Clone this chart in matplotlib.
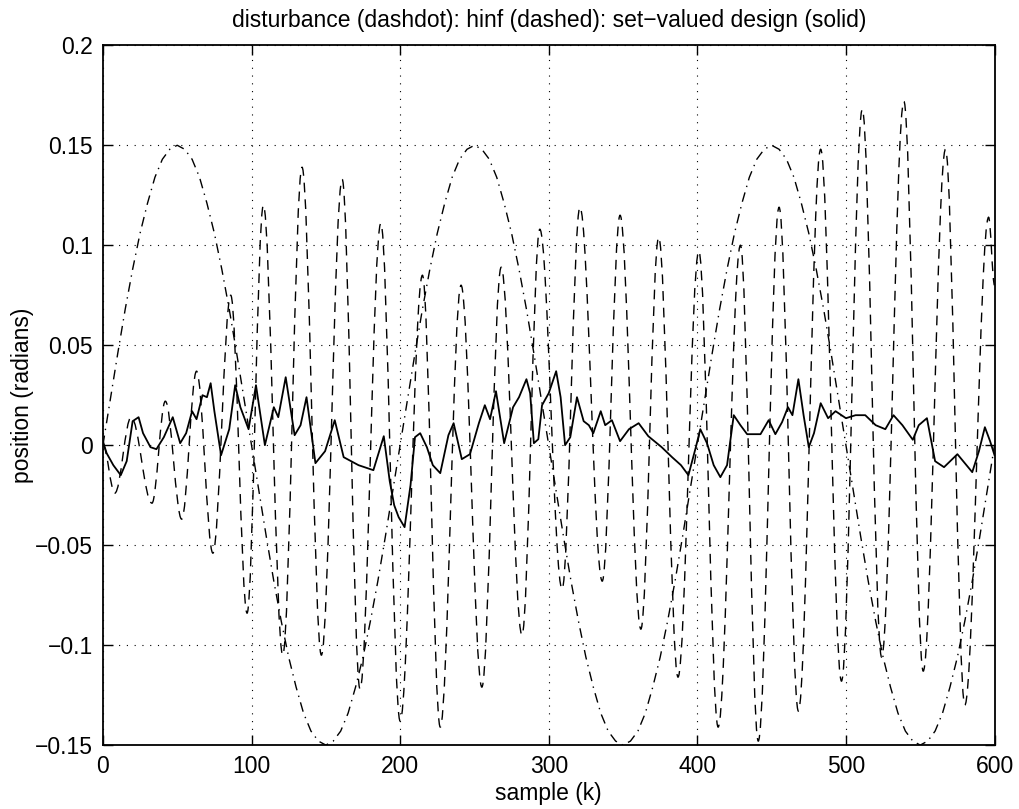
import matplotlib
matplotlib.use('Agg')
import matplotlib.pyplot as plt
from matplotlib.path import Path
from matplotlib.patches import PathPatch
import numpy as np

plt.rcParams['font.family'] = ['Liberation Sans', 'DejaVu Sans']

# disturbance (dashdot), read every 5 samples
dist_k = np.arange(0, 601, 5)
dist_y = [0, .023, .046, .068, .088, .106, .121, .134, .143, .148, .150, .148, .143, .134, .121, .106, .088, .068, .046, .023,
          0, -.023, -.046, -.068, -.088, -.106, -.121, -.134, -.143, -.148, -.150, -.148, -.143, -.134, -.121, -.106, -.088, -.068, -.046, -.023,
          0, .023, .046, .068, .088, .106, .121, .134, .143, .148, .150, .148, .143, .134, .121, .106, .088, .068, .046, .023,
          0, -.023, -.046, -.068, -.088, -.106, -.121, -.134, -.143, -.148, -.150, -.148, -.143, -.134, -.121, -.106, -.088, -.068, -.046, -.023,
          0, .023, .046, .068, .088, .106, .121, .134, .143, .148, .150, .148, .143, .134, .121, .106, .088, .068, .046, .023,
          0, -.023, -.046, -.068, -.088, -.106, -.121, -.134, -.143, -.148, -.150, -.148, -.143, -.134, -.121, -.106, -.088, -.068, -.046, -.023,
          0]

# hinf response (dashed): turning points
hinf_k = [0, 8, 19, 33, 42, 53, 63, 74, 86, 97, 108, 121, 134, 147, 161, 173, 187, 200, 215, 227,
          241, 255, 268, 282, 294, 309, 321, 336, 348, 362, 374, 387, 401, 414, 429, 441, 455, 468,
          483, 497, 511, 524, 539, 552, 567, 580, 596, 600]
hinf_y = [0.0, -0.024, 0.014, -0.029, 0.022, -0.037, 0.037, -0.054, 0.075, -0.084, 0.120, -0.105, 0.139,
          -0.105, 0.133, -0.122, 0.111, -0.138, 0.085, -0.141, 0.080, -0.121, 0.089, -0.095, 0.108,
          -0.072, 0.119, -0.068, 0.115, -0.092, 0.104, -0.116, 0.097, -0.141, 0.100, -0.148, 0.119,
          -0.133, 0.148, -0.118, 0.168, -0.106, 0.172, -0.113, 0.148, -0.130, 0.114, 0.080]

# set-valued design (solid)
sv_k = [0, 2.5, 7, 12, 16, 20, 24, 27, 32, 36, 41, 44, 47, 52, 56, 60, 63, 67, 70, 72.5, 75, 79.5, 85, 89,
        92.5, 96, 98, 103, 109, 115, 118, 123, 129, 133, 137, 143, 149.5, 156, 162, 172, 182, 189, 193,
        196, 199, 203, 207, 210, 213.5, 218, 222, 227, 232.5, 236, 241.5, 247, 253, 257, 260.5, 264.5,
        270, 276, 280, 285, 287.5, 290, 293, 295.5, 300, 305, 308, 311, 314.5, 319, 323.5, 327, 330,
        335, 338, 342.5, 348, 354, 360.5, 367, 376, 383, 389, 394, 399, 402, 406.5, 411, 415.5, 420,
        424.5, 429, 433.5, 442.5, 448, 452.5, 457, 461, 464, 468, 471.5, 475, 478.5, 483, 488, 493,
        500, 506.5, 513, 520, 526.5, 532, 538, 545, 549, 554.5, 560, 566, 575, 585, 589.5, 593.5, 597, 600]
sv_y = [0.002, -0.004, -0.010, -0.015, -0.008, 0.012, 0.014, 0.006, -0.001, -0.002, 0.004, 0.009, 0.014,
        0.001, 0.006, 0.017, 0.013, 0.025, 0.024, 0.031, 0.017, -0.005, 0.008, 0.030, 0.019, 0.012, 0.008,
        0.030, 0.000, 0.019, 0.014, 0.034, 0.005, 0.010, 0.024, -0.009, -0.003, 0.0125, -0.006, -0.010,
        -0.0125, 0.0045, -0.018, -0.030, -0.036, -0.041, -0.020, 0.004, 0.006, -0.001, -0.010, -0.014,
        0.005, 0.011, -0.007, -0.0045, 0.011, 0.020, 0.013, 0.027, 0.001, 0.019, 0.024, 0.033, 0.026,
        0.001, 0.003, 0.020, 0.026, 0.037, 0.024, 0.000, 0.004, 0.024, 0.012, 0.010, 0.006, 0.017, 0.010,
        0.0125, 0.002, 0.008, 0.011, 0.0045, -0.001, -0.006, -0.010, -0.015, -0.001, 0.008, 0.001, -0.010,
        -0.016, -0.010, 0.015, 0.010, 0.0055, 0.0055, 0.0125, 0.0055, 0.0115, 0.019, 0.015, 0.033, 0.015,
        -0.001, 0.006, 0.021, 0.0135, 0.017, 0.0135, 0.015, 0.015, 0.010, 0.008, 0.015, 0.010, 0.0027,
        0.010, 0.0135, -0.008, -0.011, -0.0045, -0.0135, -0.003, 0.009, 0.002, -0.005]

x_ticks = [0, 100, 200, 300, 400, 500, 600]
y_ticks = [-0.15, -0.1, -0.05, 0, 0.05, 0.1, 0.15, 0.2]
y_tick_labels = ['\u22120.15', '\u22120.1', '\u22120.05', '0', '0.05', '0.1', '0.15', '0.2']


def smooth_path(ks, ys):
    # cubic segments with flat tangents at each turning point
    verts = [(ks[0], ys[0])]
    codes = [Path.MOVETO]
    for i in range(1, len(ks)):
        d = ks[i] - ks[i - 1]
        verts += [(ks[i - 1] + 0.36 * d, ys[i - 1]), (ks[i] - 0.36 * d, ys[i]), (ks[i], ys[i])]
        codes += [Path.CURVE4] * 3
    return Path(verts, codes)


fig = plt.figure(figsize=(10.19, 8.09), dpi=100)
ax = fig.add_axes([0.101, 0.079, 0.875, 0.865])

ax.plot(dist_k, dist_y, color='black', lw=1.0, dashes=(7, 4, 1, 4))
ax.add_patch(PathPatch(smooth_path(hinf_k, hinf_y), fill=False, edgecolor='black',
                       lw=1.0, linestyle=(0, (7, 5))))
ax.plot(sv_k, sv_y, color='black', lw=1.3)

ax.set_xlim(0, 600)
ax.set_ylim(-0.15, 0.2)
ax.set_xticks(x_ticks)
ax.set_yticks(y_ticks)
ax.set_yticklabels(y_tick_labels)
ax.grid(True, color='black', linestyle=(0, (1, 6)), linewidth=0.8)
ax.tick_params(direction='in', top=True, right=True, length=7, width=1, labelsize=16.5, pad=7)
for s in ax.spines.values():
    s.set_linewidth(1.3)

ax.set_title('disturbance (dashdot): hinf (dashed): set\u2212valued design (solid)', fontsize=16.5, pad=13)
ax.set_xlabel('sample (k)', fontsize=16.5, labelpad=3)
ax.set_ylabel('position (radians)', fontsize=16.5, labelpad=1)

fig.savefig('out.png', dpi=100)
